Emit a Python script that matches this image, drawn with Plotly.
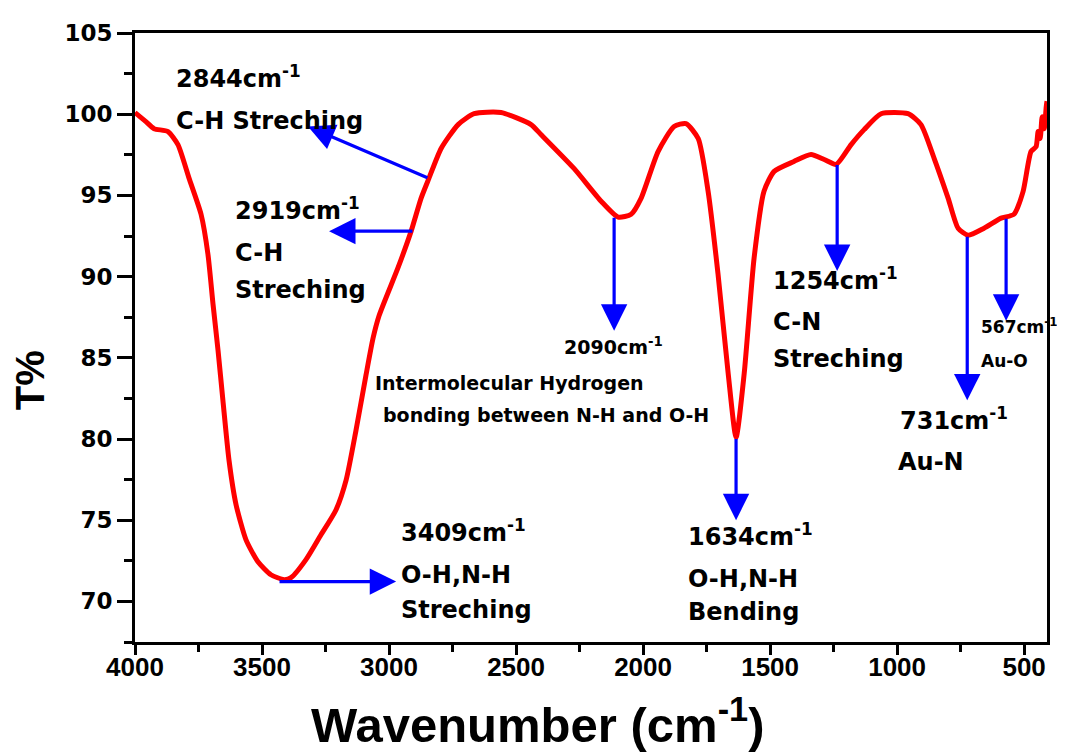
import plotly.graph_objects as go

# FTIR spectrum
wavenumber = [4000, 3957, 3925, 3870, 3831, 3787, 3740, 3713, 3693, 3673, 3654, 3630, 3602,
              3563, 3516, 3465, 3413, 3386, 3327, 3268, 3209, 3169, 3130, 3091, 3063, 3039,
              2965, 2913, 2874, 2843, 2795, 2728, 2665, 2559, 2441, 2402, 2272, 2165, 2098,
              2047, 2008, 1941, 1878, 1831, 1783, 1744, 1705, 1665, 1634, 1602, 1563, 1524,
              1484, 1406, 1339, 1287, 1240, 1181, 1130, 1063, 957, 906, 854, 799, 760, 720,
              658, 591, 540, 504, 473, 453, 445, 437, 429, 421, 413, 410]
transmittance = [100.1, 99.54, 99.11, 98.93, 98.13, 96.05, 93.84, 91.39, 88.32, 85.44, 82.38,
                 78.70, 75.94, 73.79, 72.44, 71.64, 71.34, 71.46, 72.57, 74.1, 75.63, 77.47,
                 80.54, 83.91, 86.2, 87.6, 90.53, 92.8, 94.82, 96.05, 97.89, 99.36, 100.03,
                 100.1, 99.36, 98.75, 96.66, 94.64, 93.66, 93.84, 94.82, 97.7, 99.24, 99.42,
                 98.5, 95.25, 90.16, 84.03, 80.1, 84.03, 91.14, 95.25, 96.48, 97.09, 97.52,
                 97.21, 96.91, 98.13, 99.05, 100.03, 100.03, 99.36, 97.27, 94.82, 92.98, 92.55,
                 92.98, 93.6, 93.84, 95.25, 97.7, 98.0, 98.93, 98.5, 99.85, 99.11, 100.46, 100.8]

x_ticks = [4000, 3500, 3000, 2500, 2000, 1500, 1000, 500]
y_ticks = [70, 75, 80, 85, 90, 95, 100, 105]

fig = go.Figure()
fig.add_trace(go.Scatter(x=wavenumber, y=transmittance, mode="lines",
                         line=dict(color="#ff0000", width=5, shape="spline", smoothing=0.6),
                         hoverinfo="skip"))

BLUE = "#0000ff"
# arrows: (tail x, tail y, tip x, tip y)
arrows = [
    (2843, 96.05, 3319, 99.24),
    (2902, 92.8, 3236, 92.8),
    (3437, 71.22, 2972, 71.22),
    (2114, 93.72, 2114, 86.67),
    (1634, 80.1, 1634, 75.0),
    (1236, 96.97, 1236, 90.35),
    (724, 92.55, 724, 82.38),
    (571, 93.66, 571, 87.28),
]
for tx, ty, hx, hy in arrows:
    fig.add_annotation(x=hx, y=hy, ax=tx, ay=ty, xref="x", yref="y", axref="x", ayref="y",
                       text="", showarrow=True, arrowhead=2, arrowsize=1.65, arrowwidth=3.2,
                       arrowcolor=BLUE, standoff=0, startstandoff=0)

BIG = dict(family="DejaVu Sans", size=24, color="black", weight="bold")
SMALL = dict(family="DejaVu Sans", size=19, color="black", weight="bold")
TINY = dict(family="DejaVu Sans", size=17, color="black", weight="bold")
labels = [
    ("2844cm<sup>-1</sup>", 3846, 102.3, BIG),
    ("C-H Streching", 3846, 99.6, BIG),
    ("2919cm<sup>-1</sup>", 3614, 94.15, BIG),
    ("C-H", 3614, 91.45, BIG),
    ("Streching", 3614, 89.18, BIG),
    ("2090cm<sup>-1</sup>", 2319, 85.75, SMALL),
    ("Intermolecular Hydrogen", 3063, 83.42, SMALL),
    ("bonding between N-H and O-H", 3031, 81.46, SMALL),
    ("1254cm<sup>-1</sup>", 1496, 89.85, BIG),
    ("C-N", 1496, 87.22, BIG),
    ("Streching", 1496, 84.95, BIG),
    ("731cm<sup>-1</sup>", 996, 81.25, BIG),
    ("Au-N", 1004, 78.57, BIG),
    ("567cm<sup>-1</sup>", 677, 86.95, TINY),
    ("Au-O", 677, 84.83, TINY),
    ("3409cm<sup>-1</sup>", 2961, 74.35, BIG),
    ("O-H,N-H", 2961, 71.65, BIG),
    ("Streching", 2961, 69.44, BIG),
    ("1634cm<sup>-1</sup>", 1831, 74.1, BIG),
    ("O-H,N-H", 1831, 71.4, BIG),
    ("Bending", 1831, 69.32, BIG),
]
for txt, lx, ly, f in labels:
    fig.add_annotation(x=lx, y=ly, xref="x", yref="y", text=txt, showarrow=False,
                       xanchor="left", yanchor="middle", font=f)

# axis titles
fig.add_annotation(x=0.441, y=-0.13, xref="paper", yref="paper",
                   text="Wavenumber (cm<sup>-1</sup>)", showarrow=False,
                   xanchor="center", yanchor="middle",
                   font=dict(family="Liberation Sans", size=49, color="black", weight="bold"))
fig.add_annotation(x=-0.115, y=0.43, xref="paper", yref="paper", text="T%",
                   showarrow=False, textangle=-90, xanchor="center", yanchor="middle",
                   font=dict(family="Liberation Sans", size=40, color="black", weight="bold"))

fig.update_xaxes(range=[4000, 410], tickvals=x_ticks, ticktext=[str(v) for v in x_ticks],
                 ticks="outside", ticklen=10, tickwidth=3, tickcolor="black",
                 ticklabelstandoff=-10,
                 showline=True, linewidth=3, linecolor="black", mirror=True,
                 showgrid=False, zeroline=False,
                 tickfont=dict(family="Liberation Sans", size=26, color="black", weight="bold"),
                 minor=dict(ticks="outside", ticklen=7, tickwidth=3, tickcolor="black",
                            dtick=250, tick0=0, showgrid=False))
fig.update_yaxes(range=[67.5, 105], tickvals=y_ticks, ticktext=[str(v) for v in y_ticks],
                 ticks="outside", ticklen=15, tickwidth=3, tickcolor="black",
                 showline=True, linewidth=3, linecolor="black", mirror=True,
                 showgrid=False, zeroline=False,
                 tickfont=dict(family="DejaVu Sans", size=23, color="black", weight="bold"),
                 minor=dict(ticks="outside", ticklen=8, tickwidth=3, tickcolor="black",
                            dtick=2.5, tick0=0, showgrid=False))

fig.update_layout(width=1057, height=745, margin=dict(l=127, r=18, t=23, b=111),
                  plot_bgcolor="white", paper_bgcolor="white", showlegend=False)

fig.write_html("out.html")
